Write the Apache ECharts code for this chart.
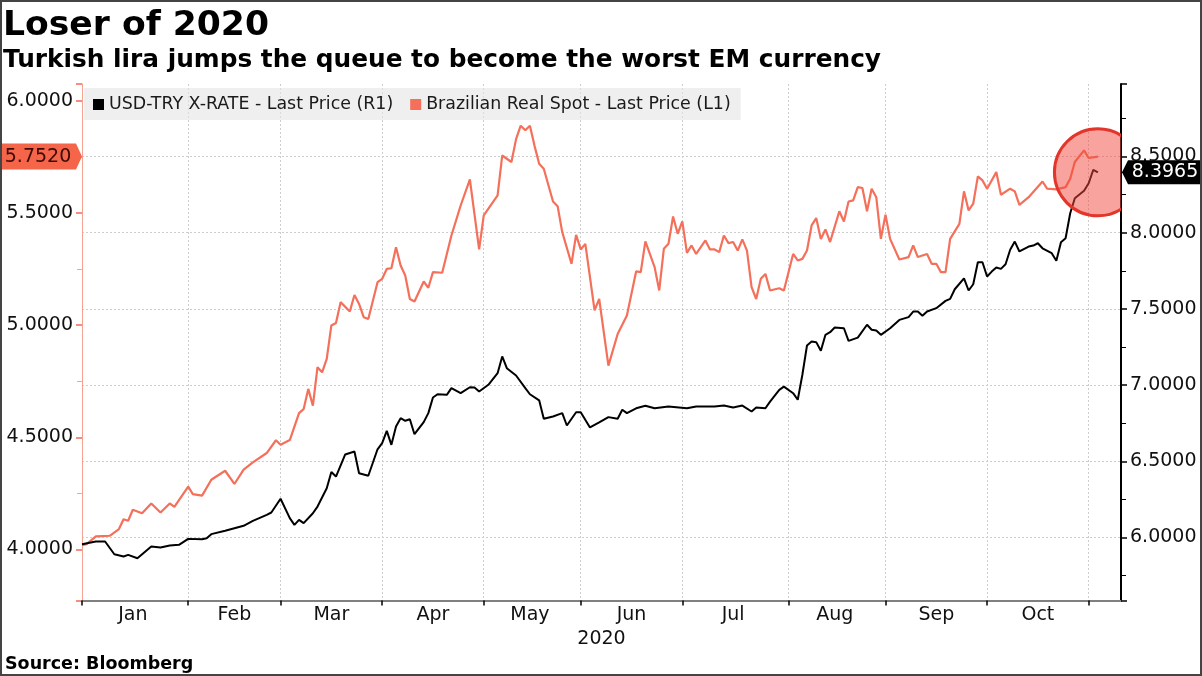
<!DOCTYPE html>
<html><head><meta charset="utf-8">
<script src="https://cdn.jsdelivr.net/npm/echarts@6/dist/echarts.min.js"></script>
<style>
html,body{margin:0;padding:0;background:#fff}
#wrap{position:relative;width:1202px;height:676px}
#chart{width:1202px;height:676px}
#frame{position:absolute;left:0;top:0;width:1202px;height:676px;box-sizing:border-box;border:2px solid #444;pointer-events:none}
</style></head><body>
<div id="wrap"><div id="chart"></div><div id="frame"></div></div>
<script>
const FONT = 'DejaVu Sans';
// Trading-day numbers: weekdays counted from 1 Jan 2020 (= 0)
const tryDay = [0,3,5,7,9,10,12,15,17,19,21,23,26,27,28,31,33,35,37,40,41,43,45,46,47,48,50,51,53,54,55,57,59,60,62,64,65,66,67,68,69,70,71,72,74,75,76,77,79,80,82,84,85,86,88,90,91,92,94,96,97,99,100,102,104,105,107,108,110,112,114,116,117,118,120,122,124,127,131,133,137,139,141,143,145,146,148,149,151,152,154,155,156,157,158,159,160,161,162,163,165,166,168,170,171,172,173,175,177,179,180,181,182,183,185,187,188,189,191,192,193,194,195,196,197,198,199,200,201,202,203,205,206,207,208,210,211,212,213,214,215,217,218,219,220];
const tryValue = [5.956,5.974,5.974,5.890,5.875,5.886,5.864,5.941,5.934,5.948,5.952,5.991,5.989,5.995,6.022,6.044,6.061,6.077,6.109,6.149,6.164,6.254,6.127,6.083,6.116,6.094,6.159,6.203,6.323,6.430,6.400,6.545,6.564,6.422,6.405,6.579,6.619,6.700,6.608,6.728,6.783,6.766,6.776,6.678,6.757,6.816,6.919,6.940,6.936,6.980,6.947,6.986,6.984,6.958,7.002,7.078,7.188,7.111,7.063,6.980,6.940,6.900,6.779,6.794,6.816,6.735,6.822,6.822,6.722,6.755,6.790,6.779,6.838,6.816,6.848,6.864,6.848,6.860,6.848,6.860,6.860,6.866,6.853,6.866,6.827,6.853,6.848,6.892,6.969,6.990,6.947,6.904,7.068,7.260,7.286,7.282,7.225,7.330,7.347,7.378,7.373,7.290,7.312,7.396,7.363,7.358,7.330,7.373,7.428,7.446,7.483,7.483,7.455,7.483,7.505,7.553,7.566,7.629,7.701,7.621,7.662,7.806,7.806,7.713,7.745,7.772,7.763,7.793,7.888,7.942,7.877,7.909,7.916,7.931,7.898,7.866,7.816,7.938,7.964,8.128,8.226,8.275,8.325,8.413,8.3965];
const brlDay = [0,1,3,6,8,9,10,11,13,15,17,19,20,23,24,26,28,31,33,35,37,40,42,43,45,47,48,49,50,51,52,53,54,55,56,58,59,60,61,62,64,65,66,67,68,69,70,71,72,74,75,76,78,80,82,84,86,87,90,91,93,94,95,96,97,98,99,100,102,103,104,106,107,108,109,111,112,114,116,118,120,121,122,124,125,126,127,128,129,130,131,132,133,135,136,137,138,139,140,141,142,143,144,145,146,147,148,149,151,152,154,155,156,157,158,159,160,161,162,164,165,166,167,168,169,170,171,172,173,174,175,177,179,180,181,183,184,185,186,187,188,190,191,192,193,194,195,196,198,199,201,202,203,205,208,209,211,213,214,215,217,218,220];
const brlValue = [4.019,4.024,4.058,4.061,4.091,4.135,4.128,4.177,4.161,4.205,4.165,4.205,4.190,4.280,4.247,4.240,4.311,4.351,4.292,4.356,4.388,4.430,4.487,4.467,4.488,4.608,4.626,4.716,4.641,4.813,4.790,4.850,4.999,5.010,5.103,5.061,5.135,5.095,5.036,5.028,5.192,5.207,5.251,5.254,5.348,5.266,5.222,5.117,5.106,5.195,5.167,5.237,5.234,5.400,5.534,5.650,5.338,5.490,5.579,5.757,5.728,5.830,5.890,5.870,5.890,5.800,5.720,5.698,5.552,5.531,5.415,5.274,5.403,5.338,5.363,5.066,5.117,4.820,4.961,5.043,5.240,5.237,5.374,5.259,5.155,5.341,5.363,5.485,5.408,5.463,5.323,5.356,5.318,5.378,5.338,5.338,5.326,5.400,5.366,5.371,5.333,5.383,5.333,5.170,5.117,5.207,5.229,5.155,5.165,5.155,5.318,5.289,5.296,5.333,5.445,5.478,5.385,5.427,5.371,5.508,5.463,5.552,5.557,5.616,5.612,5.508,5.609,5.571,5.385,5.493,5.385,5.293,5.304,5.356,5.304,5.318,5.274,5.274,5.237,5.237,5.385,5.452,5.597,5.512,5.542,5.664,5.646,5.609,5.683,5.582,5.609,5.597,5.537,5.571,5.641,5.609,5.606,5.616,5.653,5.728,5.780,5.746,5.752];
const tryLast = 8.3965;
const brlLast = 5.7520;
const monthNames = ['Jan','Feb','Mar','Apr','May','Jun','Jul','Aug','Sep','Oct','Nov','Dec'];

// Weekday category axis, 1 Jan 2020 .. 11 Nov 2020
const categories = [];
for (let d = new Date(Date.UTC(2020,0,1)); d <= new Date(Date.UTC(2020,10,11)); d.setUTCDate(d.getUTCDate()+1)) {
  const wd = d.getUTCDay();
  if (wd !== 0 && wd !== 6) categories.push(d.toISOString().slice(0,10));
}
const starts = [];
categories.forEach((c,i) => { if (i === 0 || c.slice(5,7) !== categories[i-1].slice(5,7)) starts.push(i); });
const startSet = new Set(starts);
const labelSet = new Set();
for (let i = 0; i < starts.length - 1; i++) labelSet.add(Math.floor((starts[i] + starts[i+1]) / 2));

const tryData = tryDay.map((d,i) => [categories[d], tryValue[i]]);
const brlData = brlDay.map((d,i) => [categories[d], brlValue[i]]);
const lastCat = categories[tryDay[tryDay.length-1]];

const fmtHalf = v => (Math.abs(v*2 - Math.round(v*2)) < 1e-6) ? v.toFixed(4) : '';
const gridLine = {show:true, lineStyle:{color:'#cdcdcd', type:[2,2], width:1}};

const chart = echarts.init(document.getElementById('chart'), null, {renderer:'canvas'});
chart.setOption({
  animation:false,
  backgroundColor:'#fff',
  textStyle:{fontFamily:FONT},
  title:[
    {text:'Loser of 2020', left:3, top:9, padding:0, textStyle:{fontFamily:FONT, fontSize:34.6, fontWeight:'bold', color:'#000'}},
    {text:'Turkish lira jumps the queue to become the worst EM currency', left:3, top:48, padding:0, textStyle:{fontFamily:FONT, fontSize:24.8, fontWeight:'bold', color:'#000'}},
    {text:'Source: Bloomberg', left:5, top:655, padding:0, textStyle:{fontFamily:FONT, fontSize:17.5, fontWeight:'bold', color:'#000'}}
  ],
  legend:{
    data:['USD-TRY X-RATE - Last Price (R1)','Brazilian Real Spot - Last Price (L1)'],
    left:84, top:88, padding:[8,10,7,9], itemGap:17, itemWidth:11, itemHeight:11, icon:'rect',
    backgroundColor:'rgba(228,228,228,0.6)',
    textStyle:{fontFamily:FONT, fontSize:17.4, color:'#1a1a1a'}
  },
  grid:{left:82, right:81, top:84, bottom:75.5, containLabel:false, outerBoundsMode:'none'},
  xAxis:{
    type:'category', data:categories, boundaryGap:false,
    axisLine:{show:true, lineStyle:{color:'#808080', width:2}},
    axisTick:{show:true, interval:(i)=>startSet.has(i), length:5, lineStyle:{color:'#000', width:1.5}},
    axisLabel:{interval:(i)=>labelSet.has(i), formatter:(v)=>monthNames[parseInt(v.slice(5,7),10)-1], fontFamily:FONT, fontSize:19, color:'#111', margin:5},
    splitLine:Object.assign({interval:(i)=>startSet.has(i)}, gridLine),
    name:'2020', nameLocation:'middle', nameGap:29,
    nameTextStyle:{fontFamily:FONT, fontSize:19, color:'#111'}
  },
  yAxis:[
    {type:'value', position:'left', min:3.7723, max:6.0759, splitNumber:5, scale:true,
     axisLine:{show:true, lineStyle:{color:'#f4a392', width:1}},
     axisTick:{show:true, length:6, lineStyle:{color:'#f26b50', width:1.5}},
     minorTick:{show:true, splitNumber:2, length:5, lineStyle:{color:'#d8b0a8', width:1}},
     axisLabel:{formatter:fmtHalf, fontFamily:FONT, fontSize:19, color:'#111', margin:9},
     splitLine:{show:false}},
    {type:'value', position:'right', min:5.5866, max:8.976, splitNumber:5, scale:true,
     axisLine:{show:true, lineStyle:{color:'#000', width:2}},
     axisTick:{show:true, length:6, lineStyle:{color:'#000', width:1.5}},
     minorTick:{show:true, splitNumber:2, length:5, lineStyle:{color:'#000', width:1}},
     axisLabel:{formatter:fmtHalf, fontFamily:FONT, fontSize:19, color:'#111', margin:9},
     splitLine:Object.assign({showMinLine:false, showMaxLine:false}, gridLine)}
  ],
  series:[
    {name:'USD-TRY X-RATE - Last Price (R1)', type:'line', yAxisIndex:1, data:tryData,
     symbol:'none', lineStyle:{color:'#000', width:2}, itemStyle:{color:'#000'}, z:3,
     markPoint:{silent:true, symbol:'path://M0,13L6,0L82,0L82,26L6,26Z', symbolSize:[82,24], symbolOffset:[42,0], symbolKeepAspect:false,
       itemStyle:{color:'#000'},
       label:{show:true, formatter:tryLast.toFixed(4), color:'#fff', fontFamily:FONT, fontSize:19, offset:[2,0]},
       data:[{coord:[categories[categories.length-1], tryLast]}]}},
    {name:'Brazilian Real Spot - Last Price (L1)', type:'line', yAxisIndex:0, data:brlData,
     symbol:'none', lineStyle:{color:'#f4705a', width:2.2}, itemStyle:{color:'#f4705a'}, z:2,
     markPoint:{silent:true, symbol:'path://M0,0L76,0L82,13L76,26L0,26Z', symbolSize:[82,26], symbolOffset:[-41,0], symbolKeepAspect:false,
       itemStyle:{color:'#f5654a'},
       label:{show:true, formatter:brlLast.toFixed(4), color:'#3b0a04', fontFamily:FONT, fontSize:19, offset:[-3,0]},
       data:[{coord:[categories[0], brlLast]}]}},
    {name:'highlight', type:'custom', yAxisIndex:1, data:[[lastCat, tryLast]], clip:true, silent:true, z:4,
     renderItem:(params, api) => {
       const p = api.coord([api.value(0), api.value(1)]);
       return {type:'circle', shape:{cx:p[0], cy:p[1], r:43.5},
         style:{fill:'rgba(242,72,60,0.5)', stroke:'#e3352a', lineWidth:3}};
     }}
  ]
});
</script>
</body></html>
